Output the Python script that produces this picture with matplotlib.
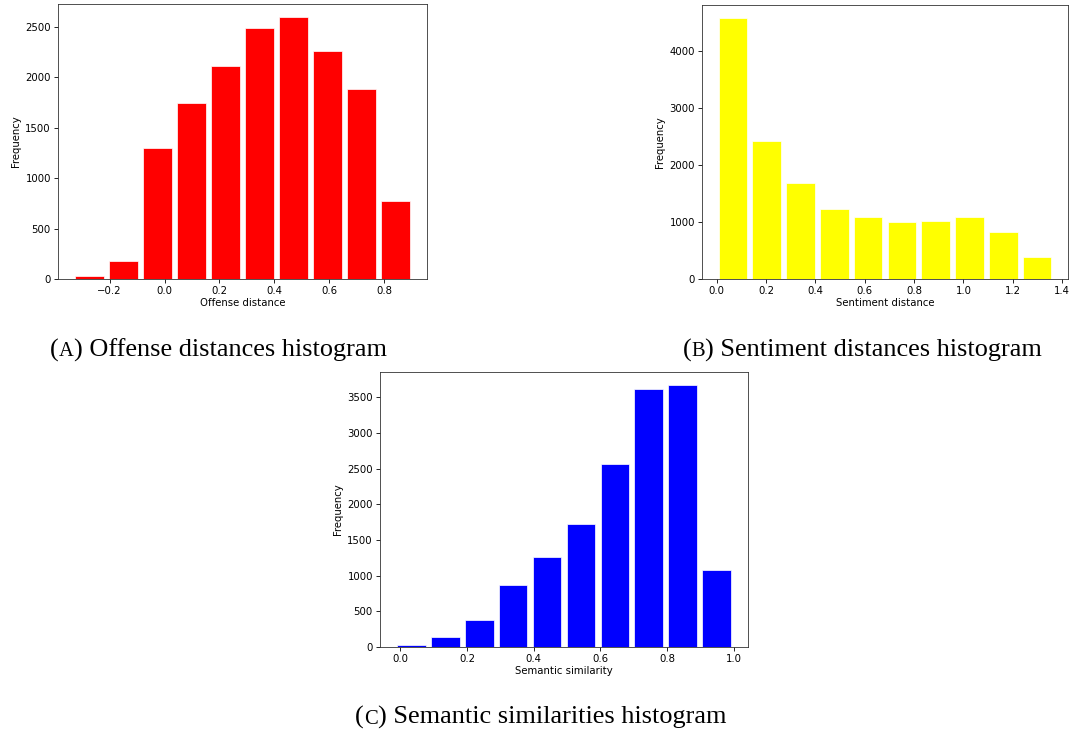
import numpy as np
import matplotlib.pyplot as plt

# bin edges and counts
offense_edges = np.linspace(-0.336, 0.904, 11)
offense_counts = [33, 182, 1298, 1740, 2107, 2483, 2596, 2256, 1879, 770]

sentiment_edges = np.linspace(-0.003, 1.367, 11)
sentiment_counts = [4569, 2416, 1689, 1232, 1091, 991, 1020, 1091, 821, 393]

semantic_edges = np.linspace(-0.018, 1.0, 11)
semantic_counts = [23, 136, 379, 875, 1263, 1722, 2560, 3617, 3673, 1086]

W, H = 1070, 729
fig = plt.figure(figsize=(W / 100, H / 100), dpi=100)

fs = 7.3


def px_axes(left, top, right, bottom):
    return fig.add_axes([left / W, 1 - bottom / H, (right - left) / W, (bottom - top) / H])


def draw_hist(ax, edges, counts, color, xlabel):
    ax.hist(edges[:-1], bins=edges, weights=counts, color=color, rwidth=0.85,
            edgecolor='white', linewidth=0.5)
    ax.set_xlabel(xlabel, fontsize=fs, labelpad=1.5)
    ax.set_ylabel('Frequency', fontsize=fs, labelpad=3)
    ax.tick_params(labelsize=fs, length=2.6, width=0.6, pad=2.5)
    for s in ax.spines.values():
        s.set_linewidth(0.6)
        s.set_color('#333333')


ax1 = px_axes(58, 4, 427, 279)
draw_hist(ax1, offense_edges, offense_counts, 'red', 'Offense distance')

ax2 = px_axes(702, 5, 1068, 279)
draw_hist(ax2, sentiment_edges, sentiment_counts, 'yellow', 'Sentiment distance')
ax2.set_xticks([0.0, 0.2, 0.4, 0.6, 0.8, 1.0, 1.2, 1.4])

ax3 = px_axes(380, 372, 748, 647)
draw_hist(ax3, semantic_edges, semantic_counts, 'blue', 'Semantic similarity')

# captions with small-caps letter
cap_fs = 18.9
renderer = fig.canvas.get_renderer()


def caption(x_px, base_px, letter, text):
    x = x_px / W
    y = 1 - base_px / H
    parts = [('(', cap_fs), (letter, cap_fs * 0.78), (') ' + text, cap_fs)]
    for s, size in parts:
        t = fig.text(x, y, s, fontsize=size, family='Liberation Serif', va='baseline', ha='left')
        bb = t.get_window_extent(renderer)
        x = bb.x1 / fig.bbox.width


caption(50, 356.5, 'A', 'Offense distances histogram')
caption(683, 356.5, 'B', 'Sentiment distances histogram')
caption(355, 723.5, 'C', 'Semantic similarities histogram')

fig.savefig('out.png', dpi=100)
